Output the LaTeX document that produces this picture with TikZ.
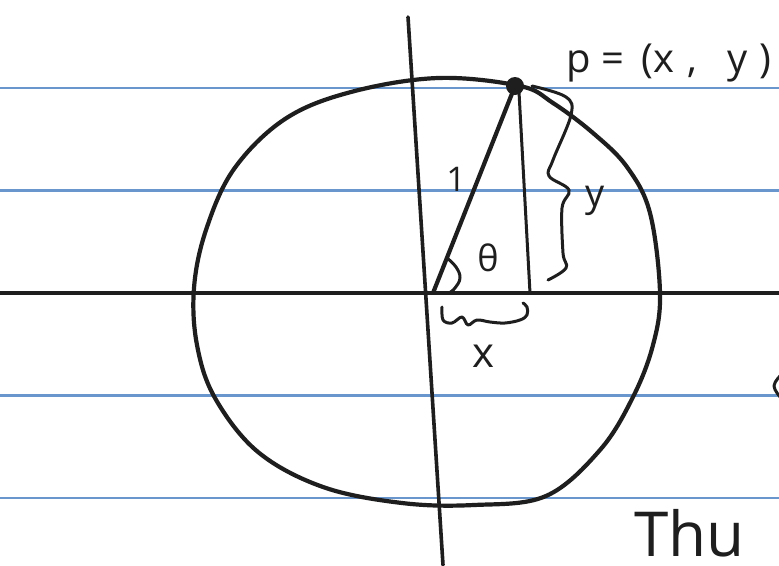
\documentclass[tikz,border=0pt]{standalone}
\usepackage{fontspec}
\setmainfont{Open Sans}
\definecolor{ink}{RGB}{30,30,30}
\definecolor{ruleblue}{RGB}{105,150,205}
\begin{document}
\begin{tikzpicture}[x=1pt,y=-1pt,
  pen/.style={draw=ink,line width=4.2pt,line cap=round,line join=round},
  thinpen/.style={draw=ink,line width=3pt,line cap=round,line join=round},
  rulestyle/.style={draw=ruleblue,line width=2.6pt},
  hand/.style={text=ink,inner sep=0pt}]
\useasboundingbox (0,0) rectangle (779,565);
\clip (0,0) rectangle (779,565);
\fill[white] (0,0) rectangle (779,565);
% ruled paper
\foreach \yy in {88,190.5,293,395.5,498} \draw[rulestyle] (0,\yy) -- (779,\yy);
% key points
\coordinate (O) at (433,293);
\coordinate (F) at (530,293);
\coordinate (Ftop) at (519,92);
\coordinate (Vtop) at (408,17);
\coordinate (Vbot) at (443,565);
\coordinate (Hl) at (0,293);
\coordinate (Hr) at (779,293);
% axes
\draw[pen,line width=4.6pt] (Hl) -- (Hr);
\draw[thinpen,line width=3.6pt] (Vtop) -- (Vbot);
% circle
\draw[pen] plot[smooth cycle,tension=0.6] coordinates {
 (438,78) (520,86) (553,103) (593,133) (627,167) (650,213) (660,293)
 (653,345) (633,397) (600,450) (546,496) (474,505) (402,503) (323,487)
 (258,452) (215,398) (197,345) (194,288) (206,230) (234,169) (285,119) (351,92)};
% point P
\node[circle,fill=ink,minimum size=18pt,inner sep=0pt] (dot) at (515,86) {};
% radius and vertical leg
\draw[pen] (O) -- (dot.center);
\draw[thinpen] (Ftop) -- (F);
% angle arc
\draw[thinpen] plot[smooth,tension=0.7] coordinates {(447,258) (456,267) (460,278) (455,288) (449,293)};
% y brace
\draw[thinpen] plot[smooth,tension=0.6] coordinates {(532,86) (566,97) (571,115) (553,160) (549,176) (569,190) (562,208) (563,253) (566,268) (548,280)};
% x brace
\draw[thinpen] plot[smooth,tension=0.6] coordinates {(442,307) (443,320) (452,323) (462,317) (468,325) (477,320) (490,322) (505,323) (520,320) (527,315) (527,307) (523,303)};
% labels
\node[hand,font=\fontsize{40}{40}\selectfont,anchor=base west] (plabel) at (566,72)
  {p\hspace{11pt}=\hspace{17pt}(x\hspace{13pt},\hspace{30pt}y\hspace{12pt})};
\node[hand,font=\fontsize{34}{34}\selectfont] (one) at (456,179) {1};
\node[hand,font=\fontsize{36}{36}\selectfont] (theta) at (488,258) {θ};
\node[hand,font=\fontsize{38}{38}\selectfont,anchor=base] (ylab) at (595,206) {y};
\node[hand,font=\fontsize{42}{42}\selectfont,anchor=base] (xlab) at (483,367) {x};
\node[hand,font=\fontsize{62}{62}\selectfont,text depth=0pt,anchor=base west] (thu) at (634,556) {Thu};
% partial mark at right edge
\draw[thinpen] plot[smooth,tension=0.7] coordinates {(781,375) (774,386) (781,398)};
\end{tikzpicture}
\end{document}
